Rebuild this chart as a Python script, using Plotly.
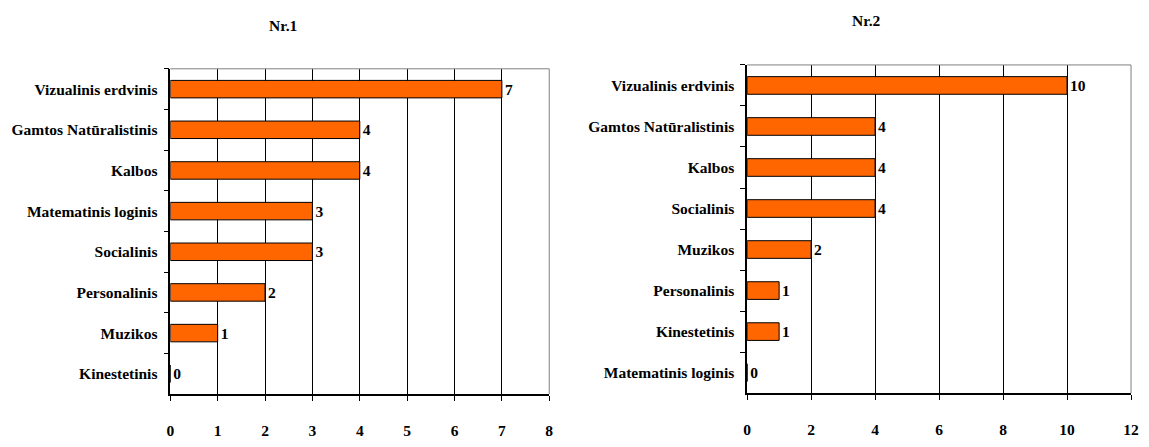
import plotly.graph_objects as go
from plotly.subplots import make_subplots

# Nr.1
cats1 = ["Vizualinis erdvinis", "Gamtos Natūralistinis", "Kalbos", "Matematinis loginis",
         "Socialinis", "Personalinis", "Muzikos", "Kinestetinis"]
vals1 = [7, 4, 4, 3, 3, 2, 1, 0]

# Nr.2
cats2 = ["Vizualinis erdvinis", "Gamtos Natūralistinis", "Kalbos", "Socialinis",
         "Muzikos", "Personalinis", "Kinestetinis", "Matematinis loginis"]
vals2 = [10, 4, 4, 4, 2, 1, 1, 0]

# page body has an 8px margin, so the figure is a bit smaller than the window
OFF = 8
W, H = 1149 - 2 * OFF, 447 - 2 * OFF
FONT = dict(family="Liberation Serif, Times New Roman, serif", size=15.5, color="black")
ORANGE = "#FF6600"


def px_x(x):
    return (x - OFF) / W


def px_y(y):
    return 1 - (y - OFF) / H


fig = make_subplots(rows=1, cols=2)

for i, (cats, vals) in enumerate([(cats1, vals1), (cats2, vals2)], start=1):
    fig.add_trace(go.Bar(
        y=cats, x=vals, orientation="h", width=0.43,
        marker=dict(color=ORANGE, line=dict(color="black", width=1)),
        text=[f"<b>{v}</b>" for v in vals], textposition="outside",
        textfont=FONT, cliponaxis=False, showlegend=False,
    ), row=1, col=i)

# plot areas in window pixels: (left, right, top, bottom)
areas = [(168, 551, 71, 408), (751, 1139, 67, 407)]
ranges = [(0, 8, 1), (0, 12, 2)]
for i, ((l, r, t, b), (lo, hi, step)) in enumerate(zip(areas, ranges), start=1):
    xa = "xaxis" if i == 1 else f"xaxis{i}"
    ya = "yaxis" if i == 1 else f"yaxis{i}"
    fig.layout[xa].update(
        domain=[px_x(l), px_x(r)], range=[lo, hi], dtick=step, tick0=0,
        showgrid=True, gridcolor="black", gridwidth=1,
        showline=True, linecolor="black", linewidth=1.5,
        ticks="outside", ticklen=5, tickcolor="black",
        ticklabelstandoff=17, ticklabeloverflow="allow", zeroline=False,
        tickfont=FONT, tickprefix="<b>", ticksuffix="</b>",
    )
    fig.layout[ya].update(
        domain=[px_y(b), px_y(t)], autorange="reversed",
        showline=True, linecolor="black", linewidth=1.5,
        ticks="outside", ticklen=5, tickson="boundaries", tickcolor="black",
        tickfont=FONT, tickprefix="<b>", ticksuffix="</b>", ticklabelstandoff=8,
    )
    # grey frame on top and right
    fig.add_shape(type="line", xref="paper", yref="paper",
                  x0=px_x(l), x1=px_x(r), y0=px_y(t), y1=px_y(t),
                  line=dict(color="#808080", width=1))
    fig.add_shape(type="line", xref="paper", yref="paper",
                  x0=px_x(r), x1=px_x(r), y0=px_y(t), y1=px_y(b),
                  line=dict(color="#808080", width=1))

fig.add_annotation(text="<b>Nr.1</b>", x=px_x(282), y=px_y(26), xref="paper", yref="paper",
                   xanchor="center", yanchor="middle", showarrow=False, font=FONT)
fig.add_annotation(text="<b>Nr.2</b>", x=px_x(872), y=px_y(21), xref="paper", yref="paper",
                   xanchor="center", yanchor="middle", showarrow=False, font=FONT)

fig.update_layout(
    width=W, height=H, margin=dict(l=0, r=0, t=0, b=0),
    plot_bgcolor="white", paper_bgcolor="white", font=FONT,
)

fig.write_html("out.html")
